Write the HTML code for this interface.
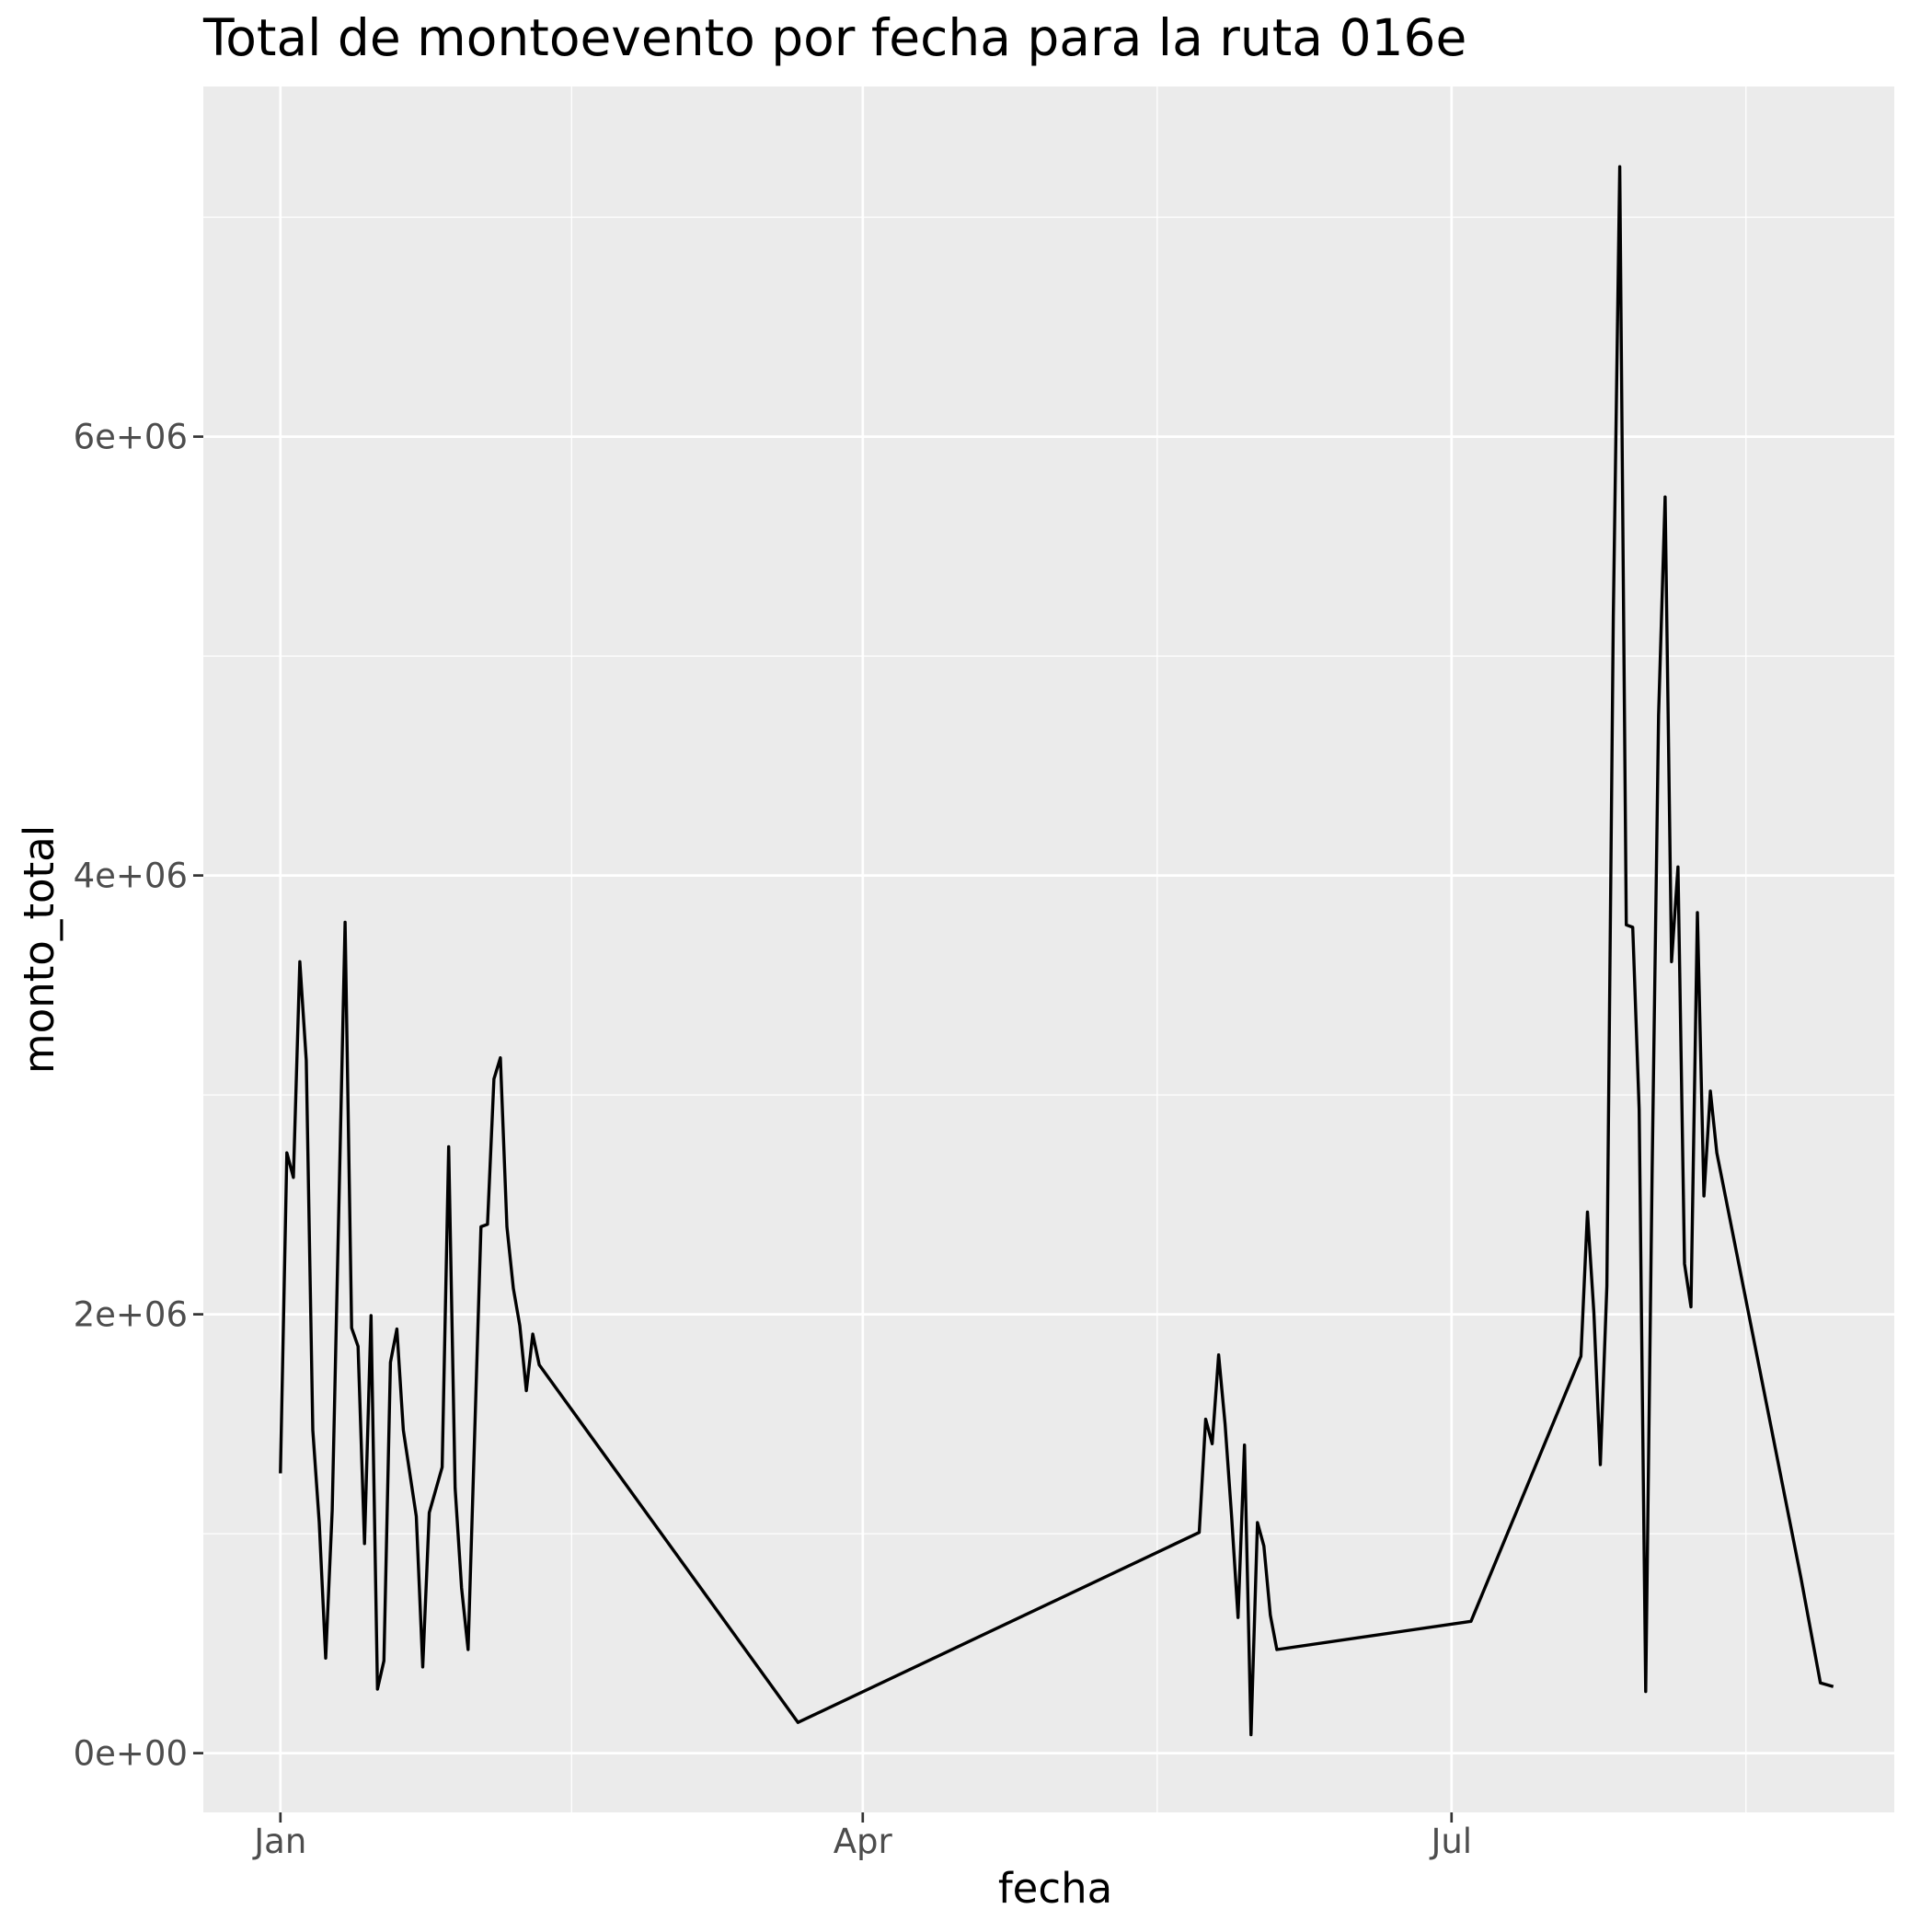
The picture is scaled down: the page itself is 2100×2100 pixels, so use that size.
<!DOCTYPE html>
<html><head><meta charset="utf-8"><style>
html,body{margin:0;padding:0;background:#fff;}
svg{display:block;font-family:"DejaVu Sans","Liberation Sans",sans-serif;}
</style></head><body>
<svg id="chart" width="2100" height="2100" viewBox="0 0 2100 2100" xmlns="http://www.w3.org/2000/svg">
<rect x="0" y="0" width="2100" height="2100" fill="#fff"/>
<text x="221" y="60" font-size="55" fill="#000">Total de montoevento por fecha para la ruta 016e</text>
<rect id="panel" x="221" y="94" width="1838" height="1876" fill="#ebebeb"/>
<g id="grid"></g>
<g id="axes"></g>
<path id="series" fill="none" stroke="#000" stroke-width="3.4" stroke-linejoin="round"/>
<text x="1147" y="2068" font-size="45" text-anchor="middle" fill="#000">fecha</text>
<text transform="translate(58,1032) rotate(-90)" font-size="45" text-anchor="middle" fill="#000">monto_total</text>
</svg>
<script>
// day of year (0 = Jan 1)
const days = [0,1,2,3,4,5,6,7,8,10,11,12,13,14,15,16,17,18,19,21,22,23,25,26,27,28,29,31,32,33,34,35,36,37,38,39,40,80,142,143,144,145,146,147,148,149,150,151,152,153,154,184,201,202,203,204,205,206,207,208,209,210,211,212,213,214,215,216,217,218,219,220,221,222,235,238,240];
// monto_total in millions
const values = [1.275,2.736,2.624,3.607,3.157,1.472,1.051,0.433,1.107,3.787,1.938,1.854,0.955,1.994,0.292,0.421,1.781,1.933,1.472,1.079,0.393,1.096,1.303,2.764,1.208,0.753,0.472,2.399,2.410,3.073,3.169,2.399,2.118,1.949,1.652,1.910,1.770,0.140,1.006,1.522,1.410,1.815,1.500,1.079,0.618,1.404,0.084,1.051,0.944,0.629,0.472,0.601,1.809,2.466,2.006,1.315,2.129,5.180,7.230,3.775,3.764,2.933,0.281,2.652,4.730,5.725,3.607,4.039,2.230,2.034,3.831,2.539,3.017,2.736,0.798,0.320,0.303];
const xTickDays = [0,90,181];
const xTickLabels = ["Jan","Apr","Jul"];
const xMinorDays = [45,135.5,226.5];
const yTicks = [0,2,4,6];
const yTickLabels = ["0e+00","2e+06","4e+06","6e+06"];
const yMinor = [1,3,5,7];

const P = {l:221,r:2059,t:94,b:1970};
const xs = d => 304.8 + d*7.033;
const ys = v => 1905.6 - v*238.5;
const NS = "http://www.w3.org/2000/svg";
const grid = document.getElementById('grid');
const axes = document.getElementById('axes');
function line(parent,x1,y1,x2,y2,stroke,w){
  const l=document.createElementNS(NS,'line');
  l.setAttribute('x1',x1);l.setAttribute('y1',y1);l.setAttribute('x2',x2);l.setAttribute('y2',y2);
  l.setAttribute('stroke',stroke);l.setAttribute('stroke-width',w);
  parent.appendChild(l);return l;
}
function text(parent,x,y,s,anchor){
  const t=document.createElementNS(NS,'text');
  t.setAttribute('x',x);t.setAttribute('y',y);t.setAttribute('font-size','37');
  t.setAttribute('fill','#4d4d4d');t.setAttribute('text-anchor',anchor);t.textContent=s;
  parent.appendChild(t);return t;
}
yMinor.forEach(v=>{const l=line(grid,P.l,ys(v),P.r,ys(v),'#fff',1.3);

});
xMinorDays.forEach(d=>{const l=line(grid,xs(d),P.t,xs(d),P.b,'#fff',1.3);

});
yTicks.forEach((v,i)=>{
  const g=line(grid,P.l,ys(v),P.r,ys(v),'#fff',2.7);
  
  
  const tk=line(axes,P.l-11,ys(v),P.l,ys(v),'#333',2.7);
  
  
  const t=text(axes,P.l-17,ys(v)+13,yTickLabels[i],'end');
  
  
});
xTickDays.forEach((d,i)=>{
  const g=line(grid,xs(d),P.t,xs(d),P.b,'#fff',2.7);
  
  
  const tk=line(axes,xs(d),P.b,xs(d),P.b+11,'#333',2.7);
  
  
  const t=text(axes,xs(d),P.b+44,xTickLabels[i],'middle');
  
  
});
document.getElementById('series').setAttribute('d',
  days.map((d,i)=>(i?'L':'M')+xs(d).toFixed(1)+','+ys(values[i]).toFixed(1)).join(''));
</script>
</body></html>
